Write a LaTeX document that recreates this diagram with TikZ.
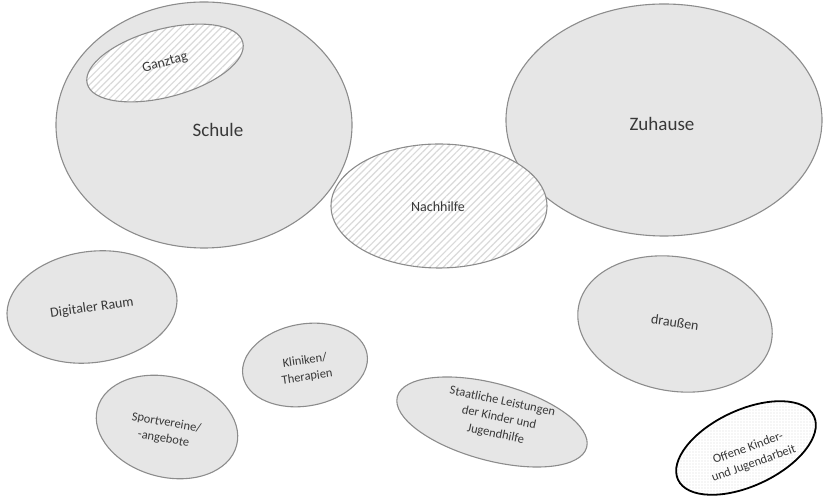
\documentclass[tikz,border=0pt]{standalone}
\usepackage{fontspec}
\setmainfont{Carlito}
\usetikzlibrary{shapes.geometric,patterns.meta}
\definecolor{blobfill}{HTML}{E6E6E6}
\definecolor{blobline}{HTML}{8C8C8C}
\definecolor{txt}{HTML}{383838}
\definecolor{hatch}{HTML}{DADADA}
\tikzset{
  blob/.style={ellipse, inner sep=0pt, draw=blobline, line width=1.1pt, fill=blobfill},
  hatched/.style={ellipse, inner sep=0pt, draw=blobline, line width=1.1pt,
    preaction={fill=white},
    pattern={Lines[angle=45,distance=4.8pt,line width=1.2pt]}, pattern color=hatch},
  dotted blob/.style={ellipse, inner sep=0pt, draw=black, line width=1.8pt,
    preaction={fill=white},
    pattern={Dots[distance=3pt,radius=0.55pt]}, pattern color=hatch},
  big/.style={text=txt, font=\fontsize{19}{22}\selectfont},
  mid/.style={text=txt, font=\fontsize{14}{17}\selectfont},
  small/.style={text=txt, font=\fontsize{12.5}{16.5}\selectfont, align=center},
}
\begin{document}
\begin{tikzpicture}[x=1pt,y=1pt]
\useasboundingbox (0,0) rectangle (823,500);

% school with all-day care inside
\node[blob, minimum width=296pt, minimum height=246pt] (schule) at (204,375) {};
\node[big] (schuleT) at (218,370) {Schule};
\node[hatched, rotate=15, minimum width=161pt, minimum height=68pt] (ganztag) at (165,437) {};
\node[mid, rotate=15] (ganztagT) at (ganztag.center) {Ganztag};

% home
\node[blob, minimum width=316pt, minimum height=232pt] (zuhause) at (664,380) {};
\node[big] (zuhauseT) at (662,376) {Zuhause};

% tutoring overlapping school and home
\node[hatched, minimum width=216pt, minimum height=124pt] (nachhilfe) at (439,294) {};
\node[mid] (nachhilfeT) at (438,293) {Nachhilfe};

% further places
\node[blob, rotate=8, minimum width=171pt, minimum height=111pt] (digital) at (92,193) {};
\node[mid, rotate=8] (digitalT) at (92,192) {Digitaler Raum};

\node[blob, rotate=-10, minimum width=196pt, minimum height=134pt] (draussen) at (675,176) {};
\node[mid, rotate=-8] (draussenT) at (675,178) {draußen};

\node[blob, rotate=10, minimum width=126pt, minimum height=82pt] (kliniken) at (305,135) {};
\node[small, rotate=8] (klinikenT) at (306,131) {Kliniken/\\Therapien};

\node[blob, rotate=-15, minimum width=144pt, minimum height=100pt] (sport) at (167,73) {};
\node[small, rotate=-10] (sportT) at (165,69) {Sportvereine/\\-angebote};

\node[blob, rotate=-15, minimum width=196pt, minimum height=77pt] (staat) at (492,78) {};
\node[small, rotate=-12] (staatT) at (499,82) {Staatliche Leistungen\\der Kinder und\\Jugendhilfe};

\node[dotted blob, rotate=25, minimum width=150pt, minimum height=76pt] (offen) at (746,52) {};
\node[small, rotate=20] (offenT) at (751,44) {Offene Kinder-\\und Jugendarbeit};
\end{tikzpicture}
\end{document}
